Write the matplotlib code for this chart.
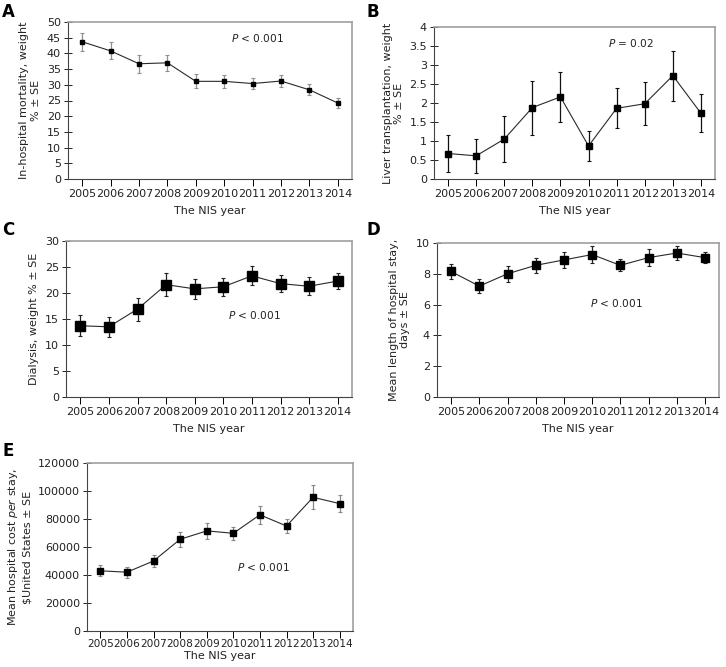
import matplotlib
matplotlib.use("Agg")
import matplotlib.pyplot as plt
import numpy as np

# DATA ########################################################################

years = ["2005", "2006", "2007", "2008", "2009", "2010", "2011", "2012", "2013", "2014"]

mortality = [43.7, 40.8, 36.7, 37.0, 31.1, 31.1, 30.4, 31.2, 28.4, 24.2]
mortality_se = [2.8, 2.7, 2.8, 2.5, 2.2, 2.0, 1.8, 1.8, 1.8, 1.6]

transplant = [0.67, 0.61, 1.05, 1.88, 2.16, 0.87, 1.86, 1.98, 2.72, 1.73]
transplant_se = [0.48, 0.44, 0.61, 0.71, 0.65, 0.39, 0.53, 0.57, 0.66, 0.50]

dialysis = [13.7, 13.5, 16.9, 21.6, 20.8, 21.2, 23.3, 21.8, 21.3, 22.3]
dialysis_se = [2.0, 1.9, 2.2, 2.2, 1.9, 1.7, 1.8, 1.7, 1.7, 1.6]

stay = [8.15, 7.2, 8.0, 8.55, 8.9, 9.25, 8.55, 9.05, 9.35, 9.05]
stay_se = [0.5, 0.45, 0.5, 0.5, 0.5, 0.55, 0.4, 0.55, 0.45, 0.35]

cost = [43000, 42000, 50000, 65500, 71500, 69800, 83000, 75000, 95500, 91000]
cost_se = [4000, 3800, 4500, 5500, 5800, 4500, 6500, 4700, 8500, 5800]

W, H = 726, 667
FS = 8

fig = plt.figure(figsize=(W / 100, H / 100), dpi=100)


def add_panel(px, values, errors, ylim, yticks, ylabel, ptext, ppos,
              msize, ecolor, xtick_fs=FS, xpad=2, labelpad=5, linespacing=1.3):
    # px = (left, top, right, bottom) in pixels
    l, t, r, b = px
    ax = fig.add_axes([l / W, (H - b) / H, (r - l) / W, (b - t) / H])
    x = np.arange(len(years))
    ax.errorbar(x, values, yerr=errors, fmt="s-", color="#2a2a2a", lw=0.8,
                ms=msize, mfc="black", mec="black", ecolor=ecolor,
                elinewidth=0.9, capsize=1.5, capthick=0.8)
    ax.set_xlim(-0.5, len(years) - 0.5)
    ax.set_ylim(*ylim)
    ax.set_yticks(yticks)
    ax.set_yticklabels([f"{v:g}" for v in yticks])
    ax.set_xticks(x)
    ax.set_xticklabels(years, fontsize=xtick_fs, color="#222222")
    ax.tick_params(axis="y", direction="inout", length=6, width=0.7,
                   labelsize=FS, colors="#222222", pad=2)
    ax.tick_params(axis="x", direction="out", length=5, width=0.7, pad=xpad)
    for side in ("top", "right"):
        ax.spines[side].set_color("#a0a0a0")
        ax.spines[side].set_linewidth(1.2)
    for side in ("left", "bottom"):
        ax.spines[side].set_color("#444444")
        ax.spines[side].set_linewidth(0.8)
    ax.set_xlabel("The NIS year", fontsize=FS, color="#222222",
                  labelpad=labelpad)
    ax.set_ylabel(ylabel, fontsize=FS, color="#222222", labelpad=4,
                  linespacing=linespacing)
    ax.text(ppos[0], ppos[1], ptext, fontsize=7.6, color="#222222",
            va="center", ha="left")
    return ax


# A
add_panel((68, 22, 352, 179), mortality, mortality_se, (0, 50),
          list(range(0, 55, 5)),
          "In-hospital mortality, weight\n% ± SE",
          r"$\it{P}$ < 0.001", (5.24, 45), 2.5, "#909090")
# B
add_panel((434, 27, 715, 179), transplant, transplant_se, (0, 4),
          [0, 0.5, 1, 1.5, 2, 2.5, 3, 3.5, 4],
          "Liver transplantation, weight\n% ± SE",
          r"$\it{P}$ = 0.02", (5.69, 3.58), 4.5, "#111111", linespacing=1.15)
# C
add_panel((66, 241, 352, 397), dialysis, dialysis_se, (0, 30),
          [0, 5, 10, 15, 20, 25, 30],
          "Dialysis, weight % ± SE",
          r"$\it{P}$ < 0.001", (5.16, 15.8), 6.5, "#222222")
# D
add_panel((437, 243, 719, 397), stay, stay_se, (0, 10),
          [0, 2, 4, 6, 8, 10],
          "Mean length of hospital stay,\ndays ± SE",
          r"$\it{P}$ < 0.001", (4.93, 6.1), 6, "#222222", linespacing=1.2)
# E
add_panel((87, 463, 353, 631), cost, cost_se, (0, 120000),
          [0, 20000, 40000, 60000, 80000, 100000, 120000],
          "Mean hospital cost $\\it{per}$ stay,\n\\$United States ± SE",
          r"$\it{P}$ < 0.001", (5.14, 45700), 4, "#888888", xtick_fs=7.6,
          xpad=1, labelpad=1)

# panel letters
for letter, (px, py) in {"A": (2, 12), "B": (366, 12), "C": (2, 230),
                         "D": (366, 230), "E": (2, 451)}.items():
    fig.text(px / W, 1 - py / H, letter, fontsize=12, fontweight="bold",
             va="center", ha="left", color="black")

plt.savefig("out.png", dpi=100)
